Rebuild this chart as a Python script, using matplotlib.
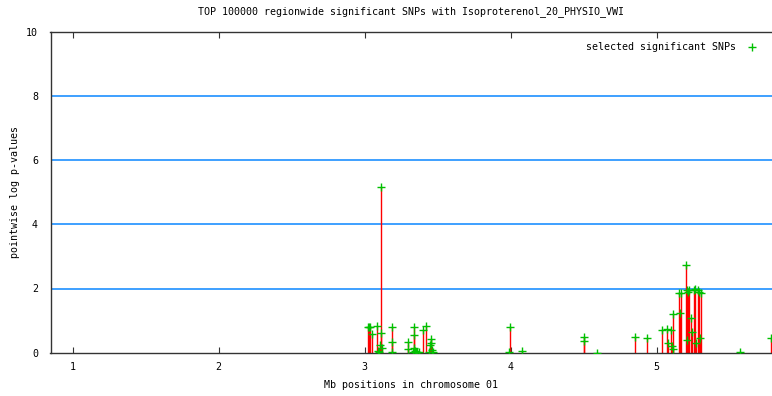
import matplotlib
matplotlib.use("Agg")
import matplotlib.pyplot as plt

title = "TOP 100000 regionwide significant SNPs with Isoproterenol_20_PHYSIO_VWI"
xlabel = "Mb positions in chromosome 01"
ylabel = "pointwise log p-values"
legend_label = "selected significant SNPs"

# SNP positions (Mb) and pointwise log p-values
positions = [3.023, 3.030, 3.037, 3.053, 3.087, 3.090, 3.100, 3.105, 3.111, 3.115, 3.121,
             3.190, 3.190, 3.190, 3.300, 3.300, 3.330, 3.338, 3.340, 3.340, 3.345, 3.350,
             3.360, 3.370, 3.400, 3.420, 3.440, 3.450, 3.457, 3.457, 3.465, 3.470,
             3.990, 3.995, 4.080, 4.505, 4.505, 4.590,
             4.850, 4.935, 5.040, 5.070, 5.075, 5.100, 5.105, 5.110, 5.115, 5.155, 5.160,
             5.165, 5.200, 5.205, 5.210, 5.215, 5.225, 5.235, 5.240, 5.255, 5.265, 5.270,
             5.280, 5.290, 5.300, 5.305, 5.570, 5.780]
values = [0.81, 0.81, 0.81, 0.57, 0.83, 0.05, 0.02, 0.24, 5.16, 0.60, 0.15,
          0.81, 0.32, 0.01, 0.32, 0.11, 0.03, 0.14, 0.81, 0.55, 0.05, 0.02,
          0.03, 0.02, 0.71, 0.83, 0.03, 0.24, 0.42, 0.30, 0.08, 0.02,
          0.02, 0.81, 0.05, 0.48, 0.36, 0.00,
          0.48, 0.47, 0.71, 0.74, 0.30, 0.71, 0.20, 1.20, 0.10, 1.87, 1.23,
          1.85, 2.73, 1.95, 0.40, 1.90, 1.95, 1.07, 0.64, 1.95, 1.97, 0.29,
          1.95, 1.88, 0.47, 1.85, 0.01, 0.47]

xticks = [1, 2, 3, 4, 5]
yticks = [0, 2, 4, 6, 8, 10]
grid_levels = [2, 4, 6, 8]

fig = plt.figure(figsize=(7.72, 3.96), dpi=100)
ax = fig.add_axes([50.5 / 772, 43.3 / 396, 1 - 50.5 / 772, 321 / 396])

font = {"family": "DejaVu Sans Mono", "size": 7.2}

for g in grid_levels:
    ax.axhline(g, color="#1e90ff", lw=1.2, zorder=1)

ax.vlines(positions, 0, values, color="red", lw=1.0, zorder=2)
ax.plot(positions, values, "+", color="#00c000", ms=5.5, mew=1.0, zorder=3,
        label=legend_label, linestyle="none")

ax.set_xlim(0.849, 5.79)
ax.set_ylim(0, 10)
ax.set_xticks(xticks)
ax.set_yticks(yticks)
ax.set_xticklabels([str(t) for t in xticks], fontdict=font)
ax.set_yticklabels([str(t) for t in yticks], fontdict=font)
ax.tick_params(axis="x", direction="in", top=True, length=4, width=0.8, pad=7, colors="#333333")
ax.tick_params(axis="y", direction="in", length=0, pad=9)
for lbl in ax.get_xticklabels() + ax.get_yticklabels():
    lbl.set_color("black")

for s in ["left", "bottom", "top"]:
    ax.spines[s].set_color("#333333")
    ax.spines[s].set_linewidth(1.0)
ax.spines["right"].set_visible(False)

ax.set_xlabel(xlabel, fontdict=font)
ax.xaxis.set_label_coords((411 - 50.5) / 721.5, -0.085)
ax.set_ylabel(ylabel, fontdict=font)
ax.yaxis.set_label_coords(-0.042, 0.5)
ax.set_title(title, fontdict=font, pad=13)

leg = ax.legend(loc="upper right", frameon=False, markerfirst=False,
                prop={"family": "DejaVu Sans Mono", "size": 7.2},
                bbox_to_anchor=(0.995, 0.995), handlelength=1.5)

fig.savefig("out.png", dpi=100)
